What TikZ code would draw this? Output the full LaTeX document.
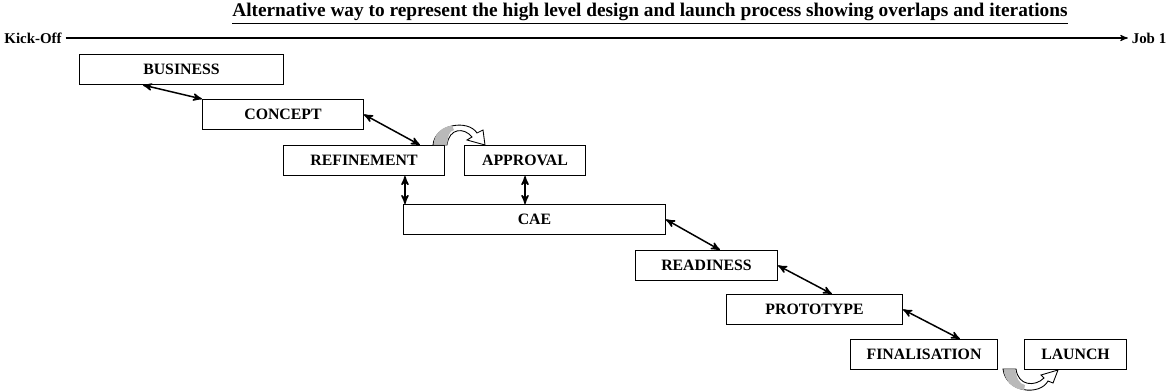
\documentclass[tikz,border=0pt]{standalone}
\usepackage{fontspec}
\setmainfont{Liberation Serif}
\usetikzlibrary{arrows}

\begin{document}
\begin{tikzpicture} [x=0.02cm,y=-0.02cm,>=stealth',line width=0.6pt,
    phase node/.style={rectangle,fill=white,draw,anchor=north west,
      font=\fontsize{9}{10}\selectfont\bfseries,minimum height=0.6cm,inner sep=0pt},
    link/.style={<->,line width=0.85pt,shorten >=0pt,shorten <=0pt},
    loop arrow/.style={draw,fill=white,line width=0.5pt},
    loop tail/.style={fill=gray!55,draw=none}]

  \useasboundingbox (0,0) rectangle (1173,392);

  % title and time line
  \node[font=\fontsize{11}{12}\selectfont\bfseries] (title) at (650,14) {\underline{Alternative way to represent the high level design and launch process showing overlaps and iterations}};
  \node[font=\fontsize{8.5}{10}\selectfont\bfseries,inner sep=2pt] (kickoff) at (33,38) {Kick-Off};
  \node[font=\fontsize{8.5}{10}\selectfont\bfseries,inner sep=2pt] (job) at (1149,38) {Job 1};
  \draw[->,line width=0.6pt] (kickoff) -- (job);

  % draw the phases
  \node [phase node,minimum width=4.08cm] (business) at (79,54) {BUSINESS};
  \node [phase node,minimum width=3.22cm] (concept) at (202,99) {CONCEPT};
  \node [phase node,minimum width=3.22cm] (refinement) at (283,145) {REFINEMENT};
  \node [phase node,minimum width=2.42cm] (approval) at (464,145) {APPROVAL};
  \node [phase node,minimum width=5.24cm] (cae) at (403,204) {CAE};
  \node [phase node,minimum width=2.84cm] (readiness) at (635,250) {READINESS};
  \node [phase node,minimum width=3.52cm] (prototype) at (726,294) {PROTOTYPE};
  \node [phase node,minimum width=2.94cm] (finalisation) at (850,339) {FINALISATION};
  \node [phase node,minimum width=2.04cm] (launch) at (1024,339) {LAUNCH};

  % overlaps between the phases
  \draw[link] ([xshift=1.28cm]business.south west) to (concept.north west);
  \draw[link] (concept.east) to ([xshift=2.74cm]refinement.north west);
  \draw[link] ([xshift=2.44cm]refinement.south west) to ([xshift=2.44cm]refinement.south west |- cae.north);
  \draw[link] (approval.south) to (approval.south |- cae.north);
  \draw[link] (cae.east) to ([xshift=1.7cm]readiness.north west);
  \draw[link] (readiness.east) to ([xshift=2.12cm]prototype.north west);
  \draw[link] (prototype.east) to ([xshift=2.2cm]finalisation.north west);

  % iterations
  \path[loop arrow] (433,145) .. controls (435,124) and (468,119) .. (477,133)
    -- (483,130) -- (485,145) -- (467,140) -- (472,137)
    .. controls (464,127) and (449,128) .. (447,145) -- cycle;
  \fill[loop tail] (433.6,144.5) .. controls (434.5,133) and (442,127) .. (452,125.5)
    -- (454,130) .. controls (449,131) and (447.5,137) .. (447.4,144.5) -- cycle;
  \path[loop arrow] (1003,369) .. controls (1006,393) and (1040,396) .. (1048,381)
    -- (1053,383) -- (1058,370) -- (1041,375) -- (1044,378)
    .. controls (1035,387) and (1018,386) .. (1016,369) -- cycle;
  \fill[loop tail] (1003.6,369.5) .. controls (1005,382) and (1013,389) .. (1024,390)
    -- (1025,385) .. controls (1019,384) and (1016.5,378) .. (1015.4,369.5) -- cycle;

\end{tikzpicture}
\end{document}
